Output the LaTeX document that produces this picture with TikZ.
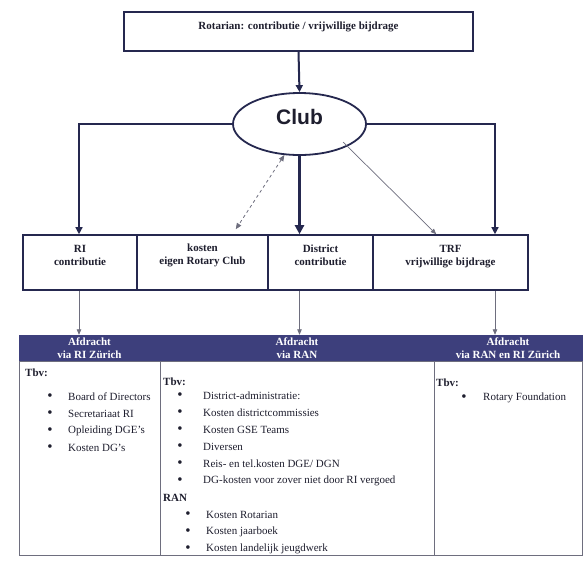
\documentclass[tikz,border=0pt]{standalone}
\usepackage{fontspec}
\setmainfont{Liberation Serif}
\newfontfamily\clubfont{Liberation Sans}
\usetikzlibrary{shapes.geometric,arrows.meta,calc}
\definecolor{navy}{HTML}{25284F}
\definecolor{band}{HTML}{3D3F7C}
\definecolor{grayline}{HTML}{6E6E7E}
\definecolor{ink}{HTML}{1E1E2E}
\begin{document}
\begin{tikzpicture}[x=1pt,y=-1pt,
  boxed/.style={draw=navy, line width=1.6pt, inner sep=0pt, minimum height=55pt},
  lab/.style={font=\bfseries\fontsize{11}{13}\selectfont, text=ink, align=center, inner sep=0pt},
  hdr/.style={fill=band, draw=band, minimum height=26pt, inner sep=0pt, text=white, font=\bfseries\fontsize{11}{12.5}\selectfont, align=center},
  col/.style={draw=grayline, line width=0.6pt, inner sep=0pt, minimum height=194pt},
  txt/.style={anchor=west, inner sep=0pt, font=\fontsize{11}{13}\selectfont, text=ink},
  btxt/.style={anchor=west, inner sep=0pt, font=\bfseries\fontsize{11}{13}\selectfont, text=ink},
  bul/.style={inner sep=0pt, font=\fontsize{15}{15}\selectfont, text=ink},
  tip/.style={-{Triangle[width=7pt,length=7pt]}},
  smalltip/.style={-{Triangle[width=4.5pt,length=5.5pt]}},
]
\useasboundingbox (0,0) rectangle (585,563);
\fill[white] (0,0) rectangle (585,563);

% top box
\node[boxed, minimum width=349pt, minimum height=39pt] (top) at (298.5,31.5) {};
\node[lab] (topT) at (298.5,27) {Rotarian: contributie / vrijwillige bijdrage};

% club
\node[ellipse, draw=navy, line width=1.8pt, minimum width=133pt, minimum height=62pt, inner sep=0pt] (club) at (299.5,124) {};
\node[inner sep=0pt, text=ink, font=\clubfont\bfseries\fontsize{21}{24}\selectfont] (clubT) at (299.5,117) {Club};

% row of boxes
\node[boxed, minimum width=114pt] (ri) at (80,262.5) {};
\node[boxed, minimum width=131pt] (kos) at (202.5,262.5) {};
\node[boxed, minimum width=105pt] (dis) at (320.5,262.5) {};
\node[boxed, minimum width=155pt] (trf) at (450.5,262.5) {};
\node[lab] (riT) at (80,255) {RI\\contributie};
\node[lab] (kosT) at (202.5,255) {kosten\\eigen Rotary Club};
\node[lab] (disT) at (320.5,255.5) {District\\contributie};
\node[lab] (trfT) at (450.5,256.5) {TRF\\vrijwillige bijdrage};

% headers
\node[hdr, minimum width=141pt] (hd1) at (89.5,348) {Afdracht\\via RI Zürich};
\node[hdr, minimum width=274pt] (hd2) at (297,348) {Afdracht\\via RAN};
\node[hdr, minimum width=148pt] (hd3) at (508,348) {Afdracht\\via RAN en RI Zürich};

% body columns
\node[col, minimum width=141pt] (c1) at (89.5,458) {};
\node[col, minimum width=274pt] (c2) at (297,458) {};
\node[col, minimum width=148pt] (c3) at (508,458) {};

% connectors
\coordinate (lc) at (79,124);
\coordinate (rc) at (495,124);
\draw[navy, line width=1.3pt, tip] (club.west) -| (lc |- ri.north);
\draw[navy, line width=1.3pt, tip] (club.east) -| (rc |- trf.north);
\draw[navy, line width=2pt, tip] (top.south) -- (club.north);
\draw[navy, line width=2.6pt, -{Triangle[width=9pt,length=9pt]}] (club.south) -- (club.south |- dis.north);
\draw[grayline, line width=0.8pt, dashed, {Triangle[width=5pt,length=6pt]}-{Triangle[width=5pt,length=6pt]}] (club.-116) -- ([xshift=-33pt,yshift=5pt]kos.north east);
\draw[grayline, line width=0.7pt, smalltip] ($(club.center)+(43.5,18)$) -- ([xshift=64pt]trf.north west);
\draw[grayline, line width=0.8pt, smalltip] (lc |- ri.south) -- (lc |- hd1.north);
\draw[grayline, line width=0.8pt, smalltip] (club.south |- dis.south) -- (club.south |- hd2.north);
\draw[grayline, line width=0.8pt, smalltip] (rc |- trf.south) -- (rc |- hd3.north);

% column 1
\node[btxt] (t1) at (25,373) {Tbv:};
\foreach \y/\t [count=\i] in {397/{Board of Directors}, 414/{Secretariaat RI}, 431/{Opleiding DGE’s}, 448/{Kosten DG’s}} {
  \node[bul] (b1\i) at (50,\y) {\textbullet};
  \node[txt] (i1\i) at (68,\y) {\t};
}
% column 2
\node[btxt] (t2) at (163,382) {Tbv:};
\foreach \y/\t [count=\i] in {396/{District-administratie:}, 413/{Kosten districtcommissies}, 430/{Kosten GSE Teams}, 447/{Diversen}, 464/{Reis- en tel.kosten DGE/ DGN}, 481/{DG-kosten voor zover niet door RI vergoed}} {
  \node[bul] (b2\i) at (180,\y) {\textbullet};
  \node[txt] (i2\i) at (203,\y) {\t};
}
\node[btxt] (ran) at (163,498) {RAN};
\foreach \y/\t [count=\i] in {515/{Kosten Rotarian}, 532/{Kosten jaarboek}, 549/{Kosten landelijk jeugdwerk}} {
  \node[bul] (b3\i) at (188,\y) {\textbullet};
  \node[txt] (i3\i) at (206,\y) {\t};
}
% column 3
\node[btxt] (t3) at (436,383) {Tbv:};
\node[bul] (b41) at (464,398) {\textbullet};
\node[txt] (i41) at (483,398) {Rotary Foundation};
\end{tikzpicture}
\end{document}
